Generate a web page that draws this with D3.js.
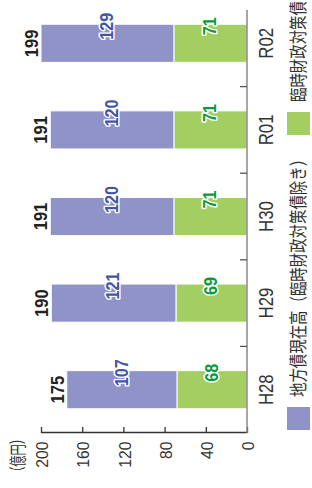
<!DOCTYPE html>
<html lang="ja">
<head>
<meta charset="UTF-8">
<title>地方債現在高</title>
<script src="https://cdn.jsdelivr.net/npm/d3@7"></script>
<style>
  html, body { margin: 0; padding: 0; background: #fff; }
  svg { display: block; font-family: "Liberation Sans", "Noto Sans CJK JP", sans-serif; }
</style>
</head>
<body>
<svg id="chart" width="312" height="488"></svg>
<script>
// data
const categories = ['H28', 'H29', 'H30', 'R01', 'R02'];
const chihousai = [107, 121, 120, 120, 129];   // 地方債現在高（臨時財政対策債除き）
const rinji = [68, 69, 71, 71, 71];            // 臨時財政対策債
const totals = [175, 190, 191, 191, 199];
const yTicks = [0, 40, 80, 120, 160, 200];

const W = 488, H = 312; // chart drawn landscape, then turned
const svg = d3.select('#chart');
const g = svg.append('g').attr('transform', `translate(0,${W}) rotate(-90)`);

const x = d3.scaleBand().domain(categories).range([55, 488]).paddingInner(0.56).paddingOuter(0.28);
const y = d3.scaleLinear().domain([0, 200]).range([247, 41]);

const blue = '#8f93c8', green = '#a3ce62';

// bars
const rows = categories.map((c, i) => ({ c, a: rinji[i], b: chihousai[i], t: totals[i] }));
g.selectAll('rect.green').data(rows).join('rect')
  .attr('x', d => x(d.c)).attr('width', x.bandwidth())
  .attr('y', d => y(d.a)).attr('height', d => y(0) - y(d.a))
  .attr('fill', green).attr('stroke', '#fff').attr('stroke-width', 1);
g.selectAll('rect.blue').data(rows).join('rect')
  .attr('x', d => x(d.c)).attr('width', x.bandwidth())
  .attr('y', d => y(d.a + d.b)).attr('height', d => y(d.a) - y(d.a + d.b))
  .attr('fill', blue).attr('stroke', '#fff').attr('stroke-width', 1);

// value axis
const ya = g.append('g').attr('transform', 'translate(55,0)')
  .call(d3.axisLeft(y).tickValues(yTicks).tickSizeInner(-6).tickSizeOuter(0).tickPadding(9));
ya.select('.domain').attr('stroke', '#333').attr('stroke-width', 1.3);
ya.selectAll('.tick line').attr('stroke', '#333').attr('stroke-width', 1.3);
ya.selectAll('.tick text').attr('font-size', 16.5).attr('fill', '#333')
  .attr('dy', '0.4em').attr('transform', 'scale(0.95,1)');

g.append('text').attr('transform', 'translate(55,18) scale(0.66,1)')
  .attr('text-anchor', 'end').attr('dominant-baseline', 'central')
  .attr('font-size', 17).attr('fill', '#333').text('（億円）');

// category axis
g.append('line').attr('x1', 55).attr('x2', 478).attr('y1', y(0)).attr('y2', y(0))
  .attr('stroke', '#888').attr('stroke-width', 1.5);
const step = x.step();
g.selectAll('line.ctick').data(categories.slice(1)).join('line')
  .attr('x1', c => x(c) - step * x.paddingInner() / 2).attr('x2', c => x(c) - step * x.paddingInner() / 2)
  .attr('y1', y(0)).attr('y2', y(0) - 7)
  .attr('stroke', '#555').attr('stroke-width', 1.3);
g.selectAll('text.cat').data(categories).join('text')
  .attr('transform', c => `translate(${x(c) + x.bandwidth() / 2},273) scale(0.8,1)`)
  .attr('text-anchor', 'middle').attr('font-size', 21).attr('fill', '#333').text(c => c);

// segment labels
function segLabel(sel, col) {
  sel.attr('text-anchor', 'middle').attr('dominant-baseline', 'central')
    .attr('font-size', 18).attr('font-weight', 'bold').attr('fill', col)
    .attr('stroke', '#fff').attr('stroke-width', 3).attr('paint-order', 'stroke')
    .attr('stroke-linejoin', 'round');
}
g.selectAll('text.gl').data(rows).join('text')
  .attr('transform', d => `translate(${x(d.c) + x.bandwidth() / 2 + 17},${(y(0) + y(d.a)) / 2}) scale(0.9,1)`)
  .call(segLabel, '#0a9a3c').text(d => d.a);
g.selectAll('text.bl').data(rows).join('text')
  .attr('transform', d => `translate(${x(d.c) + x.bandwidth() / 2 + 17},${(y(d.a) + y(d.a + d.b)) / 2}) scale(0.9,1)`)
  .call(segLabel, '#4355a5').text(d => d.b);

// totals
g.selectAll('text.tot').data(rows).join('text')
  .attr('transform', d => `translate(${x(d.c) + x.bandwidth() / 2},${y(d.a + d.b) - 3}) scale(0.95,1)`)
  .attr('text-anchor', 'middle').attr('font-size', 17.5).attr('font-weight', 'bold')
  .attr('fill', '#222').text(d => d.t);

// legend
const legend = [
  { name: '地方債現在高（臨時財政対策債除き）', color: blue, u: 58 },
  { name: '臨時財政対策債', color: green, u: 353 }
];
const lg = g.selectAll('g.leg').data(legend).join('g');
lg.append('rect').attr('x', d => d.u).attr('y', 287).attr('width', 23).attr('height', 23).attr('fill', d => d.color);
lg.append('text').attr('transform', d => `translate(${d.u + 33},298.5) scale(0.78,1)`)
  .attr('dominant-baseline', 'central').attr('font-size', 18.5).attr('fill', '#333').text(d => d.name);
</script>
</body>
</html>
